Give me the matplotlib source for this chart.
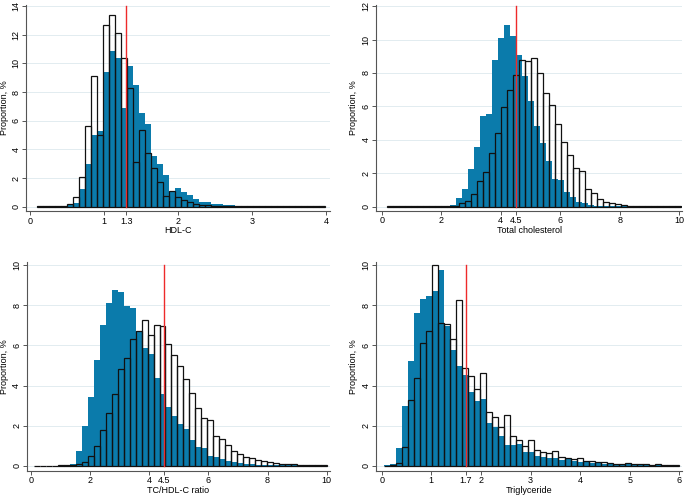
import matplotlib
matplotlib.use("Agg")
import matplotlib.pyplot as plt
import numpy as np

plt.rcParams["font.family"] = ["Liberation Sans", "DejaVu Sans"]
plt.rcParams["font.size"] = 6.5

FILL_COLOR = "#0b7bab"
GRID_COLOR = "#e2ecf0"
AXIS_COLOR = "#555555"

# --- HDL-C (48 bins) ---
hdl_fill_start, hdl_out_start, hdl_width = 0.099, 0.099, 0.0811
hdl_filled = [0.02, 0.02, 0.02, 0.02, 0.05, 0.12, 0.25, 1.2, 2.98, 5.0, 5.25, 9.4,
              10.85, 10.4, 6.9, 9.85, 8.5, 6.55, 5.8, 3.55, 2.95, 2.2, 1.05, 1.3,
              1.05, 0.8, 0.55, 0.32, 0.32, 0.22, 0.2, 0.12, 0.1, 0.08, 0.06, 0.04,
              0.04, 0.06, 0.04, 0.04, 0.04, 0.04, 0.04, 0.04, 0.04, 0.04, 0.04, 0.04]
hdl_outline = [0.02, 0.02, 0.02, 0.03, 0.08, 0.2, 0.7, 2.1, 5.6, 9.1, 5.0, 12.7,
               13.35, 12.1, 10.35, 8.25, 3.15, 5.35, 3.75, 2.7, 1.75, 0.72, 1.08, 0.7,
               0.47, 0.35, 0.17, 0.15, 0.1, 0.07, 0.05, 0.04, 0.03, 0.03, 0.03, 0.03,
               0.03, 0.03, 0.03, 0.03, 0.03, 0.03, 0.03, 0.03, 0.03, 0.03, 0.03, 0.03]
hdl_cut = 1.3
hdl_xticks = [0, 1, 1.3, 2, 3, 4]
hdl_yticks = [0, 2, 4, 6, 8, 10, 12, 14]

# --- Total cholesterol (49 bins) ---
tc_fill_start, tc_out_start, tc_width = 0.27, 0.19, 0.2016
tc_filled = [0.02, 0.02, 0.02, 0.02, 0.02, 0.02, 0.02, 0.02, 0.02, 0.05, 0.1, 0.5,
             1.05, 2.25, 3.6, 5.45, 5.55, 8.8, 10.1, 10.85, 10.2, 9.05, 7.8, 6.35,
             4.85, 3.8, 2.75, 1.65, 1.6, 0.9, 0.6, 0.3, 0.2, 0.1, 0.05, 0.02,
             0.02, 0.02, 0.02, 0.02, 0.02, 0.02, 0.02, 0.02, 0.02, 0.02, 0.02, 0.02, 0.02]
tc_outline = [0.02, 0.02, 0.02, 0.02, 0.02, 0.02, 0.02, 0.02, 0.02, 0.02, 0.03, 0.05,
              0.2, 0.35, 0.75, 1.55, 2.1, 3.2, 4.4, 5.95, 7.0, 7.9, 8.8, 8.7,
              8.9, 8.0, 6.8, 6.1, 4.95, 3.85, 3.1, 2.3, 2.15, 1.05, 0.8, 0.45,
              0.3, 0.2, 0.15, 0.1, 0.05, 0.02, 0.02, 0.02, 0.02, 0.02, 0.02, 0.02, 0.02]
tc_cut = 4.5
tc_xticks = [0, 2, 4, 4.5, 6, 8, 10]
tc_yticks = [0, 2, 4, 6, 8, 10, 12]

# --- TC/HDL-C ratio (49 bins) ---
ratio_fill_start, ratio_out_start, ratio_width = 0.12, 0.12, 0.2015
ratio_filled = [0.02, 0.02, 0.02, 0.02, 0.02, 0.02, 0.08, 0.76, 2.0, 3.45, 5.27, 7.0,
                8.1, 8.75, 8.65, 7.96, 7.85, 6.7, 5.85, 5.55, 4.4, 3.6, 2.95, 2.5,
                2.1, 1.85, 1.3, 0.95, 0.9, 0.5, 0.45, 0.35, 0.25, 0.2, 0.15, 0.1,
                0.1, 0.06, 0.03, 0.03, 0.03, 0.03, 0.03, 0.03, 0.03, 0.03, 0.03, 0.03, 0.03]
ratio_outline = [0.02, 0.02, 0.02, 0.02, 0.05, 0.03, 0.05, 0.1, 0.2, 0.5, 1.0, 1.8,
                 2.65, 3.6, 4.85, 5.35, 6.3, 6.7, 7.25, 6.5, 7.0, 6.95, 6.05, 5.5,
                 4.95, 4.35, 3.65, 2.9, 2.4, 2.3, 1.5, 1.35, 1.05, 0.75, 0.6, 0.45,
                 0.4, 0.3, 0.25, 0.2, 0.15, 0.12, 0.08, 0.1, 0.05, 0.03, 0.03, 0.03, 0.03]
ratio_cut = 4.5
ratio_xticks = [0, 2, 4, 4.5, 6, 8, 10]
ratio_yticks = [0, 2, 4, 6, 8, 10]

# --- Triglyceride (49 bins) ---
tg_fill_start, tg_out_start, tg_width = 0.04, 0.04, 0.1215
tg_filled = [0.03, 0.1, 0.9, 3.0, 5.2, 7.6, 8.3, 8.45, 8.7, 9.75, 6.95, 5.75,
             4.95, 4.55, 3.7, 3.25, 3.35, 2.15, 1.95, 1.5, 1.05, 1.05, 1.1, 0.7,
             0.7, 0.5, 0.45, 0.4, 0.4, 0.3, 0.35, 0.25, 0.2, 0.2, 0.15, 0.15,
             0.12, 0.1, 0.1, 0.08, 0.08, 0.06, 0.05, 0.05, 0.04, 0.04, 0.04, 0.03, 0.03]
tg_outline = [0.02, 0.05, 0.15, 0.95, 3.3, 4.4, 6.1, 6.7, 10.0, 7.1, 7.05, 6.3,
              8.25, 4.9, 4.5, 3.85, 4.65, 2.7, 2.45, 1.95, 2.55, 1.5, 1.3, 1.0,
              1.3, 0.8, 0.7, 0.65, 0.75, 0.45, 0.4, 0.35, 0.4, 0.25, 0.25, 0.2,
              0.2, 0.15, 0.12, 0.1, 0.15, 0.1, 0.08, 0.08, 0.05, 0.12, 0.05, 0.05, 0.05]
tg_cut = 1.7
tg_xticks = [0, 1, 1.7, 2, 3, 4, 5, 6]
tg_yticks = [0, 2, 4, 6, 8, 10]


def draw_panel(ax, fill_start, out_start, width, filled, outline, cut,
               xticks, yticks, xlabel):
    fill_edges = fill_start + width * np.arange(len(filled))
    out_edges = out_start + width * np.arange(len(outline))
    ax.bar(fill_edges, filled, width=width, align="edge", color=FILL_COLOR,
           linewidth=0, zorder=2)
    ax.bar(out_edges, outline, width=width, align="edge", fill=False,
           edgecolor="#111111", linewidth=0.9, zorder=3)
    ax.plot([cut, cut], [0, yticks[-1]], color="#ee2a2a", linewidth=1.0, zorder=4)

    ax.set_xticks(xticks)
    ax.set_xticklabels([f"{v:g}" for v in xticks])
    ax.set_yticks(yticks)
    ax.set_yticklabels([str(v) for v in yticks], rotation=90, va="center")
    ax.set_xlabel(xlabel)
    ax.set_ylabel("Proportion, %")

    ax.set_axisbelow(True)
    ax.yaxis.grid(True, color=GRID_COLOR, linewidth=0.7)
    for side in ("top", "right"):
        ax.spines[side].set_visible(False)
    for side in ("left", "bottom"):
        ax.spines[side].set_color(AXIS_COLOR)
        ax.spines[side].set_linewidth(0.8)
    ax.tick_params(length=3, width=0.7, color=AXIS_COLOR, pad=1, labelsize=6.5)
    ax.xaxis.set_label_coords(0.5, -0.073)
    ax.yaxis.set_label_coords(-0.058, 0.5)


fig = plt.figure(figsize=(6.85, 4.96), dpi=100)

ax1 = fig.add_axes([0.0384, 0.5746, 0.4429, 0.4161])
draw_panel(ax1, hdl_fill_start, hdl_out_start, hdl_width, hdl_filled, hdl_outline,
           hdl_cut, hdl_xticks, hdl_yticks, "HDL-C")
ax1.set_xlim(-0.05, 4.05)
ax1.set_ylim(-0.3, 14.1)

ax2 = fig.add_axes([0.5489, 0.5752, 0.4472, 0.4156])
draw_panel(ax2, tc_fill_start, tc_out_start, tc_width, tc_filled, tc_outline,
           tc_cut, tc_xticks, tc_yticks, "Total cholesterol")
ax2.set_xlim(-0.19, 10.1)
ax2.set_ylim(-0.24, 12.09)

ax3 = fig.add_axes([0.0390, 0.0512, 0.4423, 0.4206])
draw_panel(ax3, ratio_fill_start, ratio_out_start, ratio_width, ratio_filled,
           ratio_outline, ratio_cut, ratio_xticks, ratio_yticks, "TC/HDL-C ratio")
ax3.set_xlim(-0.135, 10.1)
ax3.set_ylim(-0.23, 10.15)

ax4 = fig.add_axes([0.5489, 0.0512, 0.4472, 0.4206])
draw_panel(ax4, tg_fill_start, tg_out_start, tg_width, tg_filled, tg_outline,
           tg_cut, tg_xticks, tg_yticks, "Triglyceride")
ax4.set_xlim(-0.115, 6.06)
ax4.set_ylim(-0.23, 10.15)

fig.savefig("out.png", dpi=100)
